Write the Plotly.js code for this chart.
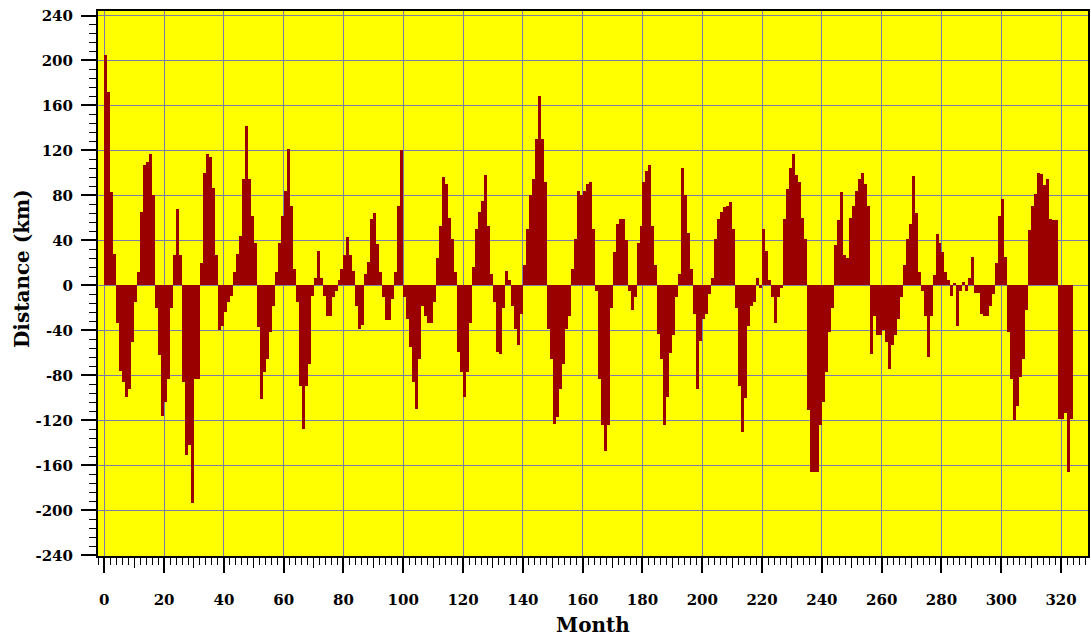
<!DOCTYPE html>
<html>
<head>
<meta charset="utf-8">
<script src="https://cdn.plot.ly/plotly-3.0.1.min.js"></script>
<style>
  html, body { margin: 0; padding: 0; background: #ffffff; }
  #chart { width: 1091px; height: 638px; }
</style>
</head>
<body>
<div id="chart"></div>
<script>
// Monthly distance anomaly (km), one value per month starting at month 0
const distance = [
  205, 172, 83, 28, -33, -76, -86, -99, -92, -50,
  -15, 12, 65, 107, 110, 117, 80, -20, -62, -116,
  -104, -83, -20, 27, 68, 27, -86, -151, -142, -193,
  -83, -83, 20, 100, 117, 114, 87, 27, -40, -36,
  -24, -15, -9, 12, 28, 44, 95, 142, 95, 62,
  38, -37, -101, -77, -65, -41, -18, 12, 38, 62,
  84, 121, 71, 15, -15, -89, -128, -89, -70, -9,
  7, 31, 7, -9, -27, -27, -10, -5, 5, 15,
  27, 43, 27, 13, -18, -39, -35, 10, 21, 59,
  64, 37, 12, -10, -31, -31, -12, 12, 71, 120,
  -10, -30, -55, -86, -110, -65, -18, -27, -33, -33,
  -15, 24, 53, 96, 90, 60, 41, 12, -59, -77,
  -99, -77, -33, 16, 50, 65, 75, 98, 53, 10,
  -15, -59, -61, -20, 13, 5, -18, -39, -53, -25,
  18, 50, 80, 95, 130, 168, 130, 92, -39, -65,
  -123, -117, -92, -70, -39, -27, 15, 41, 84, 80,
  84, 90, 92, 50, -5, -83, -124, -147, -124, -20,
  30, 55, 59, 59, 40, -5, -22, -10, 38, 53,
  92, 102, 107, 53, 18, -43, -65, -124, -99, -60,
  -44, -10, 10, 104, 80, 47, 15, -25, -92, -49,
  -30, -25, -8, 7, 41, 59, 65, 70, 71, 74,
  50, -20, -89, -130, -100, -36, -18, -15, 7, -2,
  50, 31, 5, -10, -33, -10, -2, 59, 86, 104,
  117, 98, 92, 60, 41, -111, -166, -166, -166, -124,
  -104, -77, -41, -20, 36, 58, 83, 27, 24, 60,
  71, 84, 95, 100, 90, 71, -61, -27, -44, -44,
  -40, -50, -74, -53, -44, -30, -10, 18, 41, 55,
  97, 64, 12, -5, -27, -64, -27, 9, 46, 38,
  30, 12, 5, -9, 2, -36, -5, 3, -5, 7,
  25, -7, -7, -25, -27, -27, -18, -8, 20, 62,
  77, 25, -41, -83, -120, -107, -81, -65, -22, 49,
  71, 81, 100, 99, 89, 95, 59, 58, 58, -119,
  -119, -113, -166, -119
];
const months = distance.map((_, i) => i);

const xTicks = [0, 20, 40, 60, 80, 100, 120, 140, 160, 180, 200, 220, 240, 260, 280, 300, 320];
const xMidTicks = [10, 30, 50, 70, 90, 110, 130, 150, 170, 190, 210, 230, 250, 270, 290, 310];
const yTicks = [-240, -200, -160, -120, -80, -40, 0, 40, 80, 120, 160, 200, 240];

const xRange = [-2.1, 329];
const tickFont = { family: 'DejaVu Serif, serif', size: 15, color: '#000000', weight: 700 };
const titleFont = { family: 'DejaVu Serif, serif', size: 20, color: '#000000', weight: 700 };
const gridColor = '#7c7ca4';

const trace = {
  type: 'bar',
  x: months,
  y: distance,
  width: 1,
  offset: 0,
  marker: { color: '#9b0000', line: { width: 0 } },
  hoverinfo: 'x+y'
};

const layout = {
  width: 1091,
  height: 638,
  paper_bgcolor: '#ffffff',
  plot_bgcolor: '#ffff00',
  margin: { l: 98, r: 3, t: 11, b: 82, pad: 0 },
  bargap: 0,
  showlegend: false,
  xaxis: {
    range: xRange,
    tickvals: xTicks,
    ticktext: xTicks.map(String),
    ticks: 'outside',
    ticklen: 15,
    tickwidth: 2,
    tickcolor: '#000000',
    ticklabelstandoff: 14,
    tickfont: tickFont,
    showgrid: true,
    gridcolor: gridColor,
    gridwidth: 1,
    zeroline: false,
    showline: true,
    linecolor: '#000000',
    linewidth: 2,
    mirror: true,
    minor: { dtick: 2, tick0: 0, ticks: 'outside', ticklen: 7, tickwidth: 1, tickcolor: '#000000', showgrid: false },
    title: { text: 'Month', font: titleFont, standoff: 10 },
    automargin: false
  },
  // second bottom axis carrying only the mid-decade tick marks
  xaxis2: {
    overlaying: 'x',
    anchor: 'y',
    side: 'bottom',
    range: xRange,
    tickvals: xMidTicks,
    ticks: 'outside',
    ticklen: 11,
    tickwidth: 1,
    tickcolor: '#000000',
    showticklabels: false,
    showgrid: false,
    zeroline: false,
    showline: false
  },
  yaxis: {
    range: [-240.5, 244],
    tickvals: yTicks,
    ticktext: yTicks.map(String),
    ticks: 'outside',
    ticklen: 15,
    tickwidth: 2,
    tickcolor: '#000000',
    ticklabelstandoff: 5,
    tickfont: tickFont,
    showgrid: true,
    gridcolor: gridColor,
    gridwidth: 1,
    zeroline: true,
    zerolinecolor: gridColor,
    zerolinewidth: 1,
    showline: true,
    linecolor: '#000000',
    linewidth: 2,
    mirror: true,
    minor: { dtick: 8, tick0: 0, ticks: 'outside', ticklen: 7, tickwidth: 1, tickcolor: '#000000', showgrid: false },
    automargin: false
  },
  annotations: [{
    text: 'Distance (km)',
    textangle: -90,
    font: titleFont,
    xref: 'paper', yref: 'paper',
    x: -0.077, y: 0.528,
    xanchor: 'center', yanchor: 'middle',
    showarrow: false
  }]
};

Plotly.newPlot('chart', [trace, { type: 'bar', x: [], y: [], xaxis: 'x2', yaxis: 'y', hoverinfo: 'skip' }], layout, { displayModeBar: false, staticPlot: true });
</script>
</body>
</html>
